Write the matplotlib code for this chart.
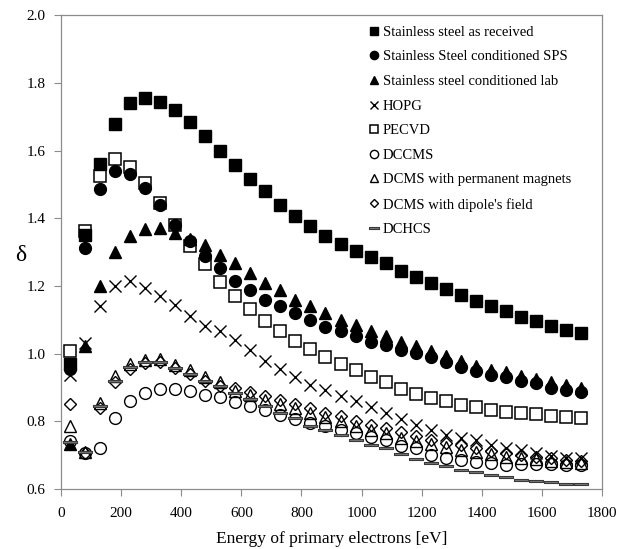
import numpy as np
import matplotlib
matplotlib.use("Agg")
import matplotlib.pyplot as plt

plt.rcParams['font.family'] = ['Liberation Serif', 'DejaVu Serif']

energy = list(range(30, 1731, 50))

ss_received = [0.97, 1.35, 1.56, 1.68, 1.74, 1.755, 1.745, 1.72, 1.685, 1.645,
               1.60, 1.557, 1.518, 1.48, 1.44, 1.407, 1.377, 1.348, 1.323, 1.305,
               1.286, 1.267, 1.245, 1.227, 1.209, 1.192, 1.175, 1.157, 1.14, 1.125,
               1.109, 1.097, 1.083, 1.071, 1.061]
ss_sps = [0.955, 1.313, 1.488, 1.54, 1.53, 1.491, 1.439, 1.382, 1.333, 1.288,
          1.254, 1.216, 1.187, 1.16, 1.141, 1.12, 1.099, 1.08, 1.066, 1.051,
          1.036, 1.026, 1.012, 1.001, 0.99, 0.976, 0.962, 0.95, 0.937, 0.93,
          0.92, 0.912, 0.9, 0.893, 0.886]
ss_lab = [0.733, 1.024, 1.20, 1.30, 1.348, 1.369, 1.372, 1.357, 1.338, 1.321,
          1.293, 1.269, 1.239, 1.209, 1.188, 1.16, 1.142, 1.121, 1.101, 1.086,
          1.066, 1.051, 1.036, 1.022, 1.008, 0.993, 0.978, 0.965, 0.952, 0.945,
          0.935, 0.926, 0.915, 0.906, 0.898]
hopg = [0.937, 1.033, 1.14, 1.201, 1.214, 1.195, 1.172, 1.145, 1.111, 1.083,
        1.066, 1.04, 1.012, 0.979, 0.954, 0.931, 0.908, 0.893, 0.876, 0.861,
        0.842, 0.824, 0.806, 0.79, 0.775, 0.76, 0.752, 0.745, 0.73, 0.72,
        0.716, 0.706, 0.698, 0.693, 0.691]
pecvd = [1.008, 1.362, 1.525, 1.575, 1.553, 1.506, 1.446, 1.382, 1.318, 1.265,
         1.211, 1.172, 1.131, 1.098, 1.066, 1.038, 1.013, 0.99, 0.97, 0.951,
         0.931, 0.915, 0.895, 0.881, 0.869, 0.859, 0.849, 0.841, 0.834, 0.829,
         0.824, 0.821, 0.817, 0.814, 0.811]
dccms = [0.743, 0.705, 0.72, 0.81, 0.861, 0.885, 0.895, 0.896, 0.891, 0.879,
         0.871, 0.857, 0.845, 0.835, 0.82, 0.807, 0.795, 0.785, 0.775, 0.767,
         0.755, 0.745, 0.727, 0.72, 0.70, 0.691, 0.686, 0.681, 0.676, 0.672,
         0.674, 0.674, 0.673, 0.672, 0.67]
dcms_magnets = [0.787, 0.71, 0.855, 0.935, 0.97, 0.982, 0.985, 0.967, 0.952, 0.932,
                0.915, 0.89, 0.878, 0.862, 0.85, 0.84, 0.826, 0.812, 0.80, 0.787,
                0.775, 0.765, 0.752, 0.743, 0.733, 0.724, 0.716, 0.709, 0.702, 0.696,
                0.692, 0.688, 0.684, 0.68, 0.677]
dcms_dipole = [0.852, 0.705, 0.84, 0.915, 0.955, 0.972, 0.975, 0.958, 0.94, 0.918,
               0.905, 0.90, 0.888, 0.874, 0.863, 0.852, 0.84, 0.826, 0.815, 0.802,
               0.79, 0.779, 0.768, 0.757, 0.746, 0.737, 0.729, 0.721, 0.713, 0.706,
               0.701, 0.696, 0.691, 0.687, 0.683]
dchcs = [0.74, 0.71, 0.845, 0.92, 0.96, 0.975, 0.975, 0.958, 0.94, 0.918,
         0.905, 0.885, 0.866, 0.846, 0.826, 0.809, 0.787, 0.775, 0.76, 0.745,
         0.73, 0.72, 0.704, 0.688, 0.678, 0.668, 0.656, 0.649, 0.641, 0.635,
         0.627, 0.624, 0.62, 0.615, 0.614]

labels = ["Stainless steel as received", "Stainless Steel conditioned SPS",
          "Stainless steel conditioned lab", "HOPG", "PECVD", "DCCMS",
          "DCMS with permanent magnets", "DCMS with dipole's field", "DCHCS"]

# flat bar used by the DCHCS series
dash = [(-1, -0.22), (1, -0.22), (1, 0.22), (-1, 0.22), (-1, -0.22)]

fig = plt.figure(figsize=(6.31, 5.49), dpi=100)
ax = fig.add_axes([0.0967, 0.1093, 0.8573, 0.8625])

ax.plot(energy, ss_received, ls='none', marker='s', ms=8.5, color='black', label=labels[0])
ax.plot(energy, ss_sps, ls='none', marker='o', ms=8.5, color='black', label=labels[1])
ax.plot(energy, ss_lab, ls='none', marker='^', ms=9, color='black', label=labels[2])
ax.plot(energy, hopg, ls='none', marker='x', ms=8, mew=1.0, color='black', label=labels[3])
ax.plot(energy, pecvd, ls='none', marker='s', ms=8.5, mfc='none', mec='black', mew=1.1, label=labels[4])
ax.plot(energy, dccms, ls='none', marker='o', ms=8.5, mfc='none', mec='black', mew=1.0, label=labels[5])
ax.plot(energy, dcms_magnets, ls='none', marker='^', ms=8.5, mfc='none', mec='black', mew=1.0, label=labels[6])
ax.plot(energy, dcms_dipole, ls='none', marker='D', ms=6.5, mfc='none', mec='black', mew=1.0, label=labels[7])
ax.plot(energy, dchcs, ls='none', marker=dash, ms=9.5, mfc='#7a7a7a', mec='#3a3a3a', mew=0.8, label=labels[8])

ax.set_xlim(0, 1800)
ax.set_ylim(0.6, 2.0)
ax.set_xticks(np.arange(0, 1801, 200))
ax.set_yticks(np.arange(0.6, 2.01, 0.2))
ax.set_yticklabels([f"{v:.1f}" for v in np.arange(0.6, 2.01, 0.2)])
for s in ax.spines.values():
    s.set_color('#8c8c8c')
    s.set_linewidth(0.9)
ax.tick_params(axis='both', direction='out', length=5, color='#8c8c8c',
               labelsize=11, pad=6)
ax.tick_params(axis='x', pad=8)

ax.set_xlabel("Energy of primary electrons [eV]", fontsize=12.5, labelpad=8)
ax.set_ylabel("δ", fontsize=17, rotation=0, labelpad=14)
ax.yaxis.set_label_coords(-0.075, 0.47)

leg = ax.legend(loc='upper right', frameon=False, fontsize=10.5, markerscale=0.7,
                handlelength=0.6, handletextpad=0.3, labelspacing=0.78,
                borderaxespad=0.3, bbox_to_anchor=(0.962, 1.0))

fig.savefig("out.png", dpi=100)
